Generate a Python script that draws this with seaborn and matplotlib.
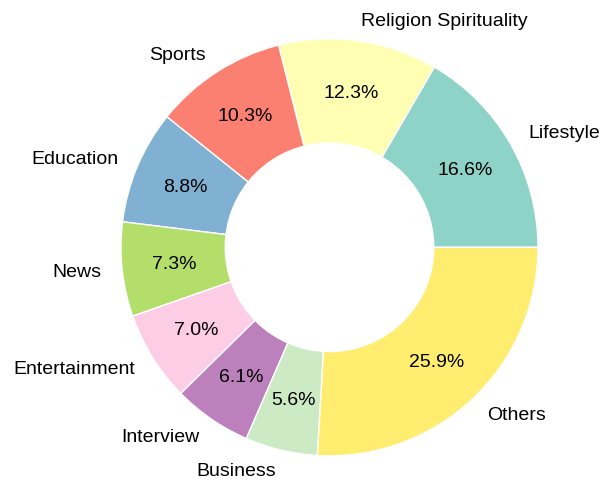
import matplotlib
matplotlib.use("Agg")
import matplotlib.pyplot as plt
import numpy as np
import seaborn as sns

categories = ["Lifestyle", "Religion Spirituality", "Sports", "Education", "News",
              "Entertainment", "Interview", "Business", "Others"]
shares = [16.6, 12.3, 10.3, 8.8, 7.3, 7.0, 6.1, 5.6, 25.9]

sns.set_style("white")
plt.rcParams["font.family"] = ["Liberation Sans", "DejaVu Sans"]

colors = plt.get_cmap("Set3")(np.linspace(0, 1, len(categories)))

fig = plt.figure(figsize=(6.03, 4.85), dpi=100)
ax = fig.add_axes([0, 0, 1, 1])

wedges, texts, autotexts = ax.pie(
    shares, labels=categories, colors=colors, autopct="%1.1f%%",
    startangle=0, pctdistance=0.75, labeldistance=1.1,
    wedgeprops=dict(edgecolor="white", linewidth=1),
    textprops=dict(fontsize=14, color="black"),
)
ax.add_artist(plt.Circle((0, 0), 0.5, color="white"))

# pixel radius and centre of the ring inside the 603x485 canvas
r = 208.5
cx, cy = 329.5, 248.3
ax.set_xlim(-cx / r, (603 - cx) / r)
ax.set_ylim(-(485 - cy) / r, cy / r)
ax.set_aspect("auto")
ax.axis("off")

fig.savefig("out.png", dpi=100)
